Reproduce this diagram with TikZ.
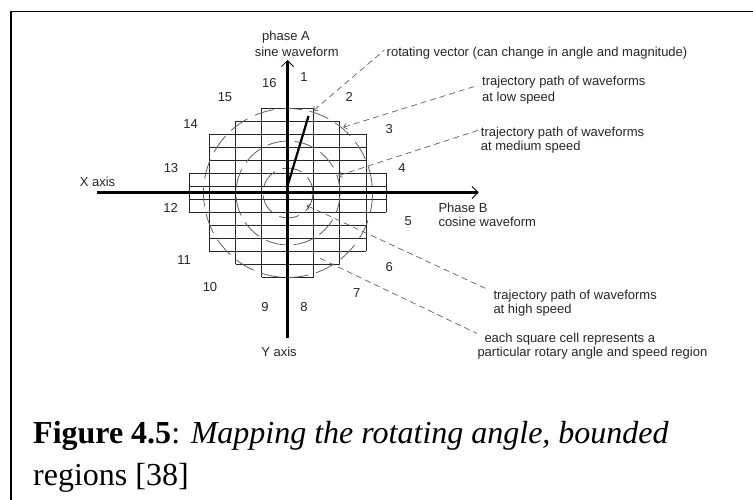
\documentclass[tikz,border=0pt]{standalone}
\usepackage{fontspec}
\setmainfont{Liberation Serif}
\newfontfamily\diagfont{Liberation Sans}
\usepackage{xcolor}
\usepackage{tikz}
\usetikzlibrary{arrows.meta,positioning}
\definecolor{inkgray}{RGB}{95,95,95}

\begin{document}
\begin{tikzpicture}[x=1pt, y=-1pt,
  lbl/.style={inner sep=0pt, font=\diagfont\fontsize{13}{14}\selectfont, text=black!85},
  num/.style={lbl},
  capt/.style={inner sep=0pt, anchor=base west, font=\fontsize{32}{42}\selectfont},
  gridln/.style={black!85, line width=0.8pt},
  trj/.style={inkgray, line width=0.8pt, dash pattern=on 20pt off 8pt},
  lead/.style={inkgray, line width=0.7pt, dash pattern=on 6pt off 4pt},
  xyaxis/.style={-{Straight Barb[length=6pt,width=12pt,line width=0.8pt]}, line width=3.2pt}]
\useasboundingbox (0,0) rectangle (753,500);
\draw[line width=1.5pt] (11,500) |- (753,11.5);

% cells and trajectory circles
\begin{scope}[shift={(287.5,192.5)}]
  \foreach \y/\w in {84.5/26,71.5/52,58.5/78.5,45.5/78.5,32.5/78.5,19.5/98.5,6.5/98.5}{
    \draw[gridln] (-\w,\y) -- (\w,\y);
    \draw[gridln] (-\w,-\y) -- (\w,-\y);
  }
  \foreach \x/\h in {0/84.5,26/84.5,52/71.5,78.5/58.5,98.5/19.5}{
    \draw[gridln] (\x,-\h) -- (\x,\h);
    \draw[gridln] (-\x,-\h) -- (-\x,\h);
  }
  \foreach \r in {25,52,84.5}
    \draw[trj] (0.5,0.5) circle[radius=\r];
\end{scope}

% axes and vector
\coordinate (xL) at (97.3,192.5);
\coordinate (xR) at (478.5,192.5);
\coordinate (yB) at (287.5,338.3);
\coordinate (yT) at (287.5,60);
\draw[xyaxis] (xL) -- (xR);
\draw[xyaxis] (yB) -- (yT);
\coordinate (vA) at (287.5,186);
\coordinate (vB) at (308.5,116);
\draw[line width=2.2pt] (vA) -- (vB);

% labels
\node[lbl] (phA) at (286,37.3) {phase A};
\node[lbl] (sinA) at (296.7,51.7) {sine waveform};
\node[lbl] (xAx) at (97.5,182.3) {X axis};
\node[lbl] (yAx) at (279,351.7) {Y axis};
\node[lbl, anchor=west] (rotT) at (386.5,53) {rotating vector (can change in angle and magnitude)};
\node[lbl, anchor=west, align=left] (lowT) at (482,90.3) {trajectory path of waveforms\\[2pt]at low speed};
\node[lbl, anchor=west, align=left] (medT) at (480.7,140.3) {trajectory path of waveforms\\at medium speed};
\node[lbl, anchor=west, align=left] (phB) at (438.3,214.7) {Phase B\\cosine waveform};
\node[lbl, anchor=west, align=left] (highT) at (493.3,302.7) {trajectory path of waveforms\\at high speed};
\node[lbl, anchor=west, align=left] (cellT) at (477.3,345.9) {\hspace{7pt}each square cell represents a\\particular rotary angle and speed region};

% region numbers
\node[num] (n1) at (304,76.7) {1};
\node[num] (n2) at (349.3,96.7) {2};
\node[num] (n3) at (389.3,129.3) {3};
\node[num] (n4) at (402,168.3) {4};
\node[num] (n5) at (408.3,221) {5};
\node[num] (n6) at (389.3,267.3) {6};
\node[num] (n7) at (356.7,292.7) {7};
\node[num] (n8) at (304,306.7) {8};
\node[num] (n9) at (265,306.7) {9};
\node[num] (n10) at (210,287.3) {10};
\node[num] (n11) at (184,260) {11};
\node[num] (n12) at (170.7,208.3) {12};
\node[num] (n13) at (171,168.3) {13};
\node[num] (n14) at (190.7,124) {14};
\node[num] (n15) at (225,96.7) {15};
\node[num] (n16) at (269.3,82.7) {16};

% leaders
\coordinate (rotP) at (313.5,110.5);
\coordinate (lowP) at (343.3,127.3);
\coordinate (medP) at (338.3,175.7);
\coordinate (highP) at (306.7,205.5);
\coordinate (cellP) at (320,258.3);
\draw[lead, {Straight Barb[length=3pt,width=6pt]}-] (rotP) -- ([xshift=-2pt,yshift=3pt]rotT.west);
\draw[lead, {Straight Barb[length=3pt,width=6pt]}-] (lowP) -- ([xshift=-7pt,yshift=4pt]lowT.west);
\draw[lead, {Straight Barb[length=3pt,width=6pt]}-] (medP) -- ([xshift=-2.5pt,yshift=10pt]medT.west);
\draw[lead, {Straight Barb[length=3pt,width=6pt]}-] (highP) -- ([xshift=-5pt,yshift=13pt]highT.west);
\draw[lead] (cellP) -- ([xshift=-0.5pt,yshift=12.5pt]cellT.west);

% caption
\node[capt] (cap1) at (33,443) {\textbf{Figure 4.5}: \textit{Mapping the rotating angle, bounded}};
\node[capt] (cap2) at ([yshift=-42pt]cap1.base west) {regions [38]};
\end{tikzpicture}
\end{document}
